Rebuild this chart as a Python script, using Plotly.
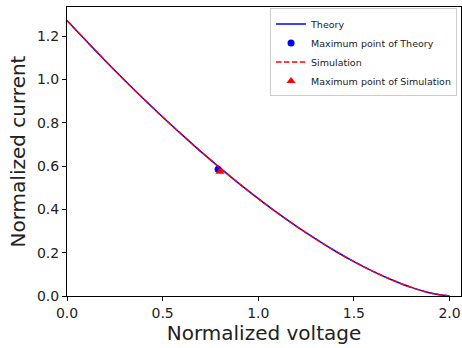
import plotly.graph_objects as go

voltage = [0.0, 0.1, 0.2, 0.3, 0.4, 0.5, 0.6, 0.7, 0.8, 0.9, 1.0,
           1.1, 1.2, 1.3, 1.4, 1.5, 1.6, 1.7, 1.8, 1.9, 2.0]
theory_current = [1.273, 1.179, 1.087, 0.998, 0.911, 0.827, 0.746, 0.667, 0.592, 0.519, 0.450,
                  0.384, 0.322, 0.264, 0.209, 0.159, 0.114, 0.074, 0.040, 0.014, 0.0]
sim_current = [1.273, 1.179, 1.087, 0.998, 0.911, 0.827, 0.746, 0.667, 0.592, 0.519, 0.450,
               0.384, 0.322, 0.264, 0.209, 0.159, 0.114, 0.074, 0.040, 0.014, 0.0]
theory_max_v, theory_max_i = [0.79], [0.585]
sim_max_v, sim_max_i = [0.80], [0.574]

font = "DejaVu Sans"
fig = go.Figure()
fig.add_trace(go.Scatter(x=voltage, y=theory_current, mode="lines", name="Theory",
                         line=dict(color="blue", width=1.5, shape="spline")))
fig.add_trace(go.Scatter(x=theory_max_v, y=theory_max_i, mode="markers", name="Maximum point of Theory",
                         marker=dict(color="blue", size=7, symbol="circle")))
fig.add_trace(go.Scatter(x=voltage, y=sim_current, mode="lines", name="Simulation",
                         line=dict(color="red", width=1.5, dash="5.5px,2.4px", shape="spline")))
fig.add_trace(go.Scatter(x=sim_max_v, y=sim_max_i, mode="markers", name="Maximum point of Simulation",
                         marker=dict(color="red", size=8, symbol="triangle-up")))

axis_common = dict(showline=True, linecolor="black", linewidth=1, mirror=True,
                   ticks="outside", ticklen=4, tickcolor="black", showgrid=False,
                   zeroline=False, tickfont=dict(family=font, size=14, color="#222"))
fig.update_layout(
    width=462, height=348,
    margin=dict(l=67, r=1, t=7, b=52),
    plot_bgcolor="white", paper_bgcolor="white",
    font=dict(family=font, color="#222"),
    xaxis=dict(range=[0, 2.06], tickvals=[0, 0.5, 1.0, 1.5, 2.0],
               ticktext=["0.0", "0.5", "1.0", "1.5", "2.0"],
               title=dict(text="Normalized voltage", font=dict(family=font, size=20), standoff=5),
               **axis_common),
    yaxis=dict(range=[0, 1.335], tickvals=[0, 0.2, 0.4, 0.6, 0.8, 1.0, 1.2],
               ticktext=["0.0", "0.2", "0.4", "0.6", "0.8", "1.0", "1.2"],
               title=dict(text="Normalized current", font=dict(family=font, size=20), standoff=5),
               **axis_common),
    legend=dict(x=0.99, y=0.995, xanchor="right", yanchor="top",
                bgcolor="white", bordercolor="#ccc", borderwidth=1,
                font=dict(family=font, size=9.5, color="#222"),
                tracegroupgap=0, itemwidth=30),
    showlegend=True,
)
fig.write_html("out.html", config={"displayModeBar": False},
               post_script="document.body.style.margin='0';document.body.style.overflow='hidden';")
